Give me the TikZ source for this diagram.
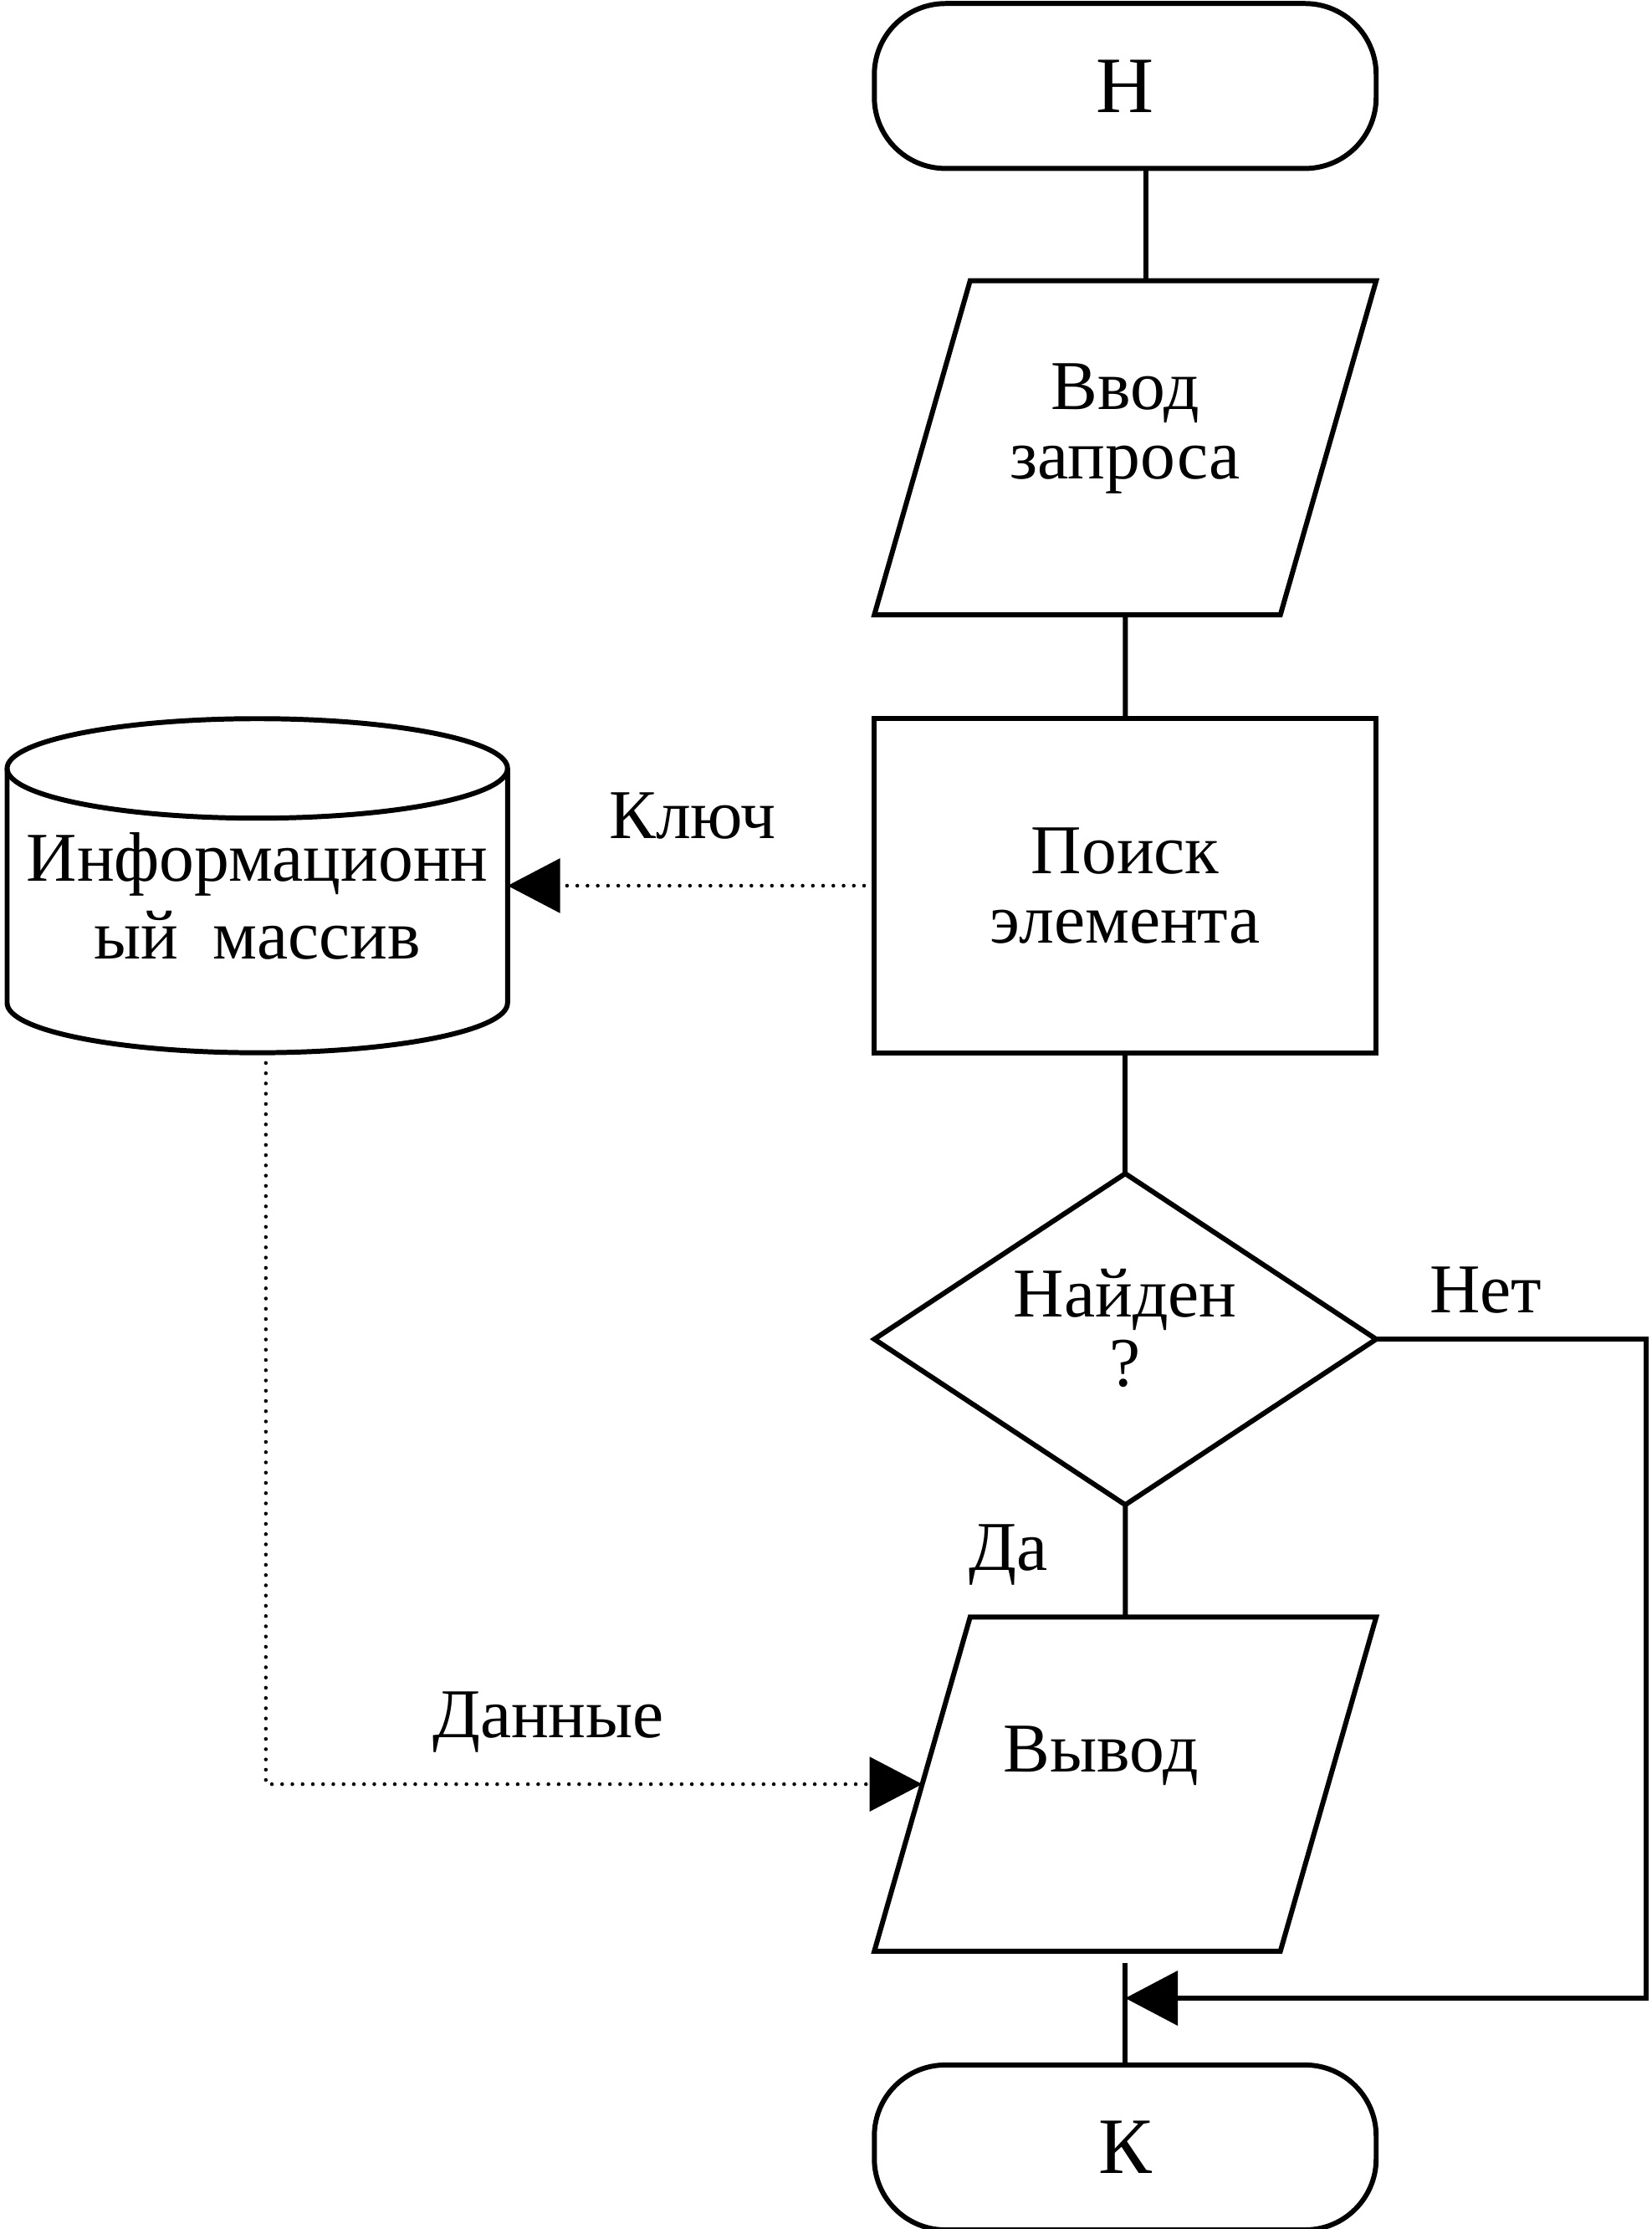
\documentclass[tikz,border=0pt]{standalone}
\usepackage{fontspec}
\setmainfont{Liberation Serif}
\usetikzlibrary{positioning, shapes.geometric, arrows.meta}

\begin{document}
\begin{tikzpicture}[
    line width=1pt,
    base/.style={draw, inner sep=2pt, outer sep=0pt, align=center, font=\fontsize{14pt}{14pt}\selectfont},
    term/.style={base, rectangle, rounded corners=0.5cm, minimum width=3.53cm, minimum height=1.16cm, font=\fontsize{16pt}{16pt}\selectfont},
    io/.style={base, trapezium, trapezium left angle=74, trapezium right angle=106, trapezium stretches body=true, inner ysep=0pt, minimum width=3.53cm, minimum height=2.35cm},
    proc/.style={base, rectangle, minimum width=3.53cm, minimum height=2.35cm},
    test/.style={base, diamond, aspect=1.515, inner sep=0pt, minimum width=3.53cm, minimum height=2.33cm},
    store/.style={rectangle, inner sep=0pt, outer sep=0pt, align=center, minimum width=3.52cm, minimum height=2.35cm, font=\fontsize{14pt}{15.5pt}\selectfont},
    lbl/.style={inner sep=0pt, anchor=base, font=\fontsize{14pt}{14pt}\selectfont},
    flow/.style={-{Triangle[length=0.37cm, width=0.38cm]}},
    dots/.style={line width=0.75pt, dash pattern=on 0pt off 2.05pt, line cap=round}]
    \useasboundingbox (0,0) rectangle (11.62,-15.68);

    \node[term] (H) at (7.915,-0.605) {Н};
    \node[io, text height=1.395cm, text depth=0.955cm, below=0.79cm of H] (In) {Ввод\\запроса};
    \node[proc, below=0.73cm of In] (Find) {Поиск\\элемента};
    \node[test, text depth=0.16cm, below=0.85cm of Find] (Found) {Найден\\?};
    \node[io, text height=1.09cm, text depth=1.26cm, below=0.79cm of Found] (Out) {Вывод\hspace*{0.34cm}};
    \node[term, below=0.80cm of Out] (K) {К};

    % cylinder
    \node[store, text height=1.03cm, left=2.58cm of Find] (DB) {Информационн\\ый~~массив};
    \draw ([yshift=-0.35cm]DB.north) ellipse[x radius=1.76cm, y radius=0.35cm];
    \draw ([yshift=-0.35cm]DB.north west) -- ([yshift=0.35cm]DB.south west)
        arc[start angle=180, end angle=360, x radius=1.76cm, y radius=0.35cm]
        -- ([yshift=-0.35cm]DB.north east);

    \coordinate[right=1.9cm of Found.east] (ret);
    \coordinate[below=0.33cm of Out.south] (join);

    \draw ([xshift=0.145cm]H.south) -- ([xshift=0.145cm]H.south |- In.north);
    \draw (In) -- (Find);
    \draw (Find) -- (Found);
    \draw (Found) -- (Out);
    \draw ([yshift=-0.08cm]Out.south) -- (K);
    \draw[flow] (Found.east) -- (ret) |- (join);

    \draw[dots, flow] (Find.west) -- (DB.east);
    \draw[dots, flow] ([xshift=0.06cm]DB.south) |- (Out.left side);

    \node[lbl] (key) at ([shift={(-1.28,0.335)}]Find.west) {Ключ};
    \node[lbl] (no) at ([shift={(0.77,0.185)}]Found.east) {Нет};
    \node[lbl] (yes) at ([shift={(-0.82,-0.46)}]Found.south) {Да};
    \node[lbl] (data) at ([shift={(-2.63,0.325)}]Out.left side) {Данные};
\end{tikzpicture}
\end{document}
